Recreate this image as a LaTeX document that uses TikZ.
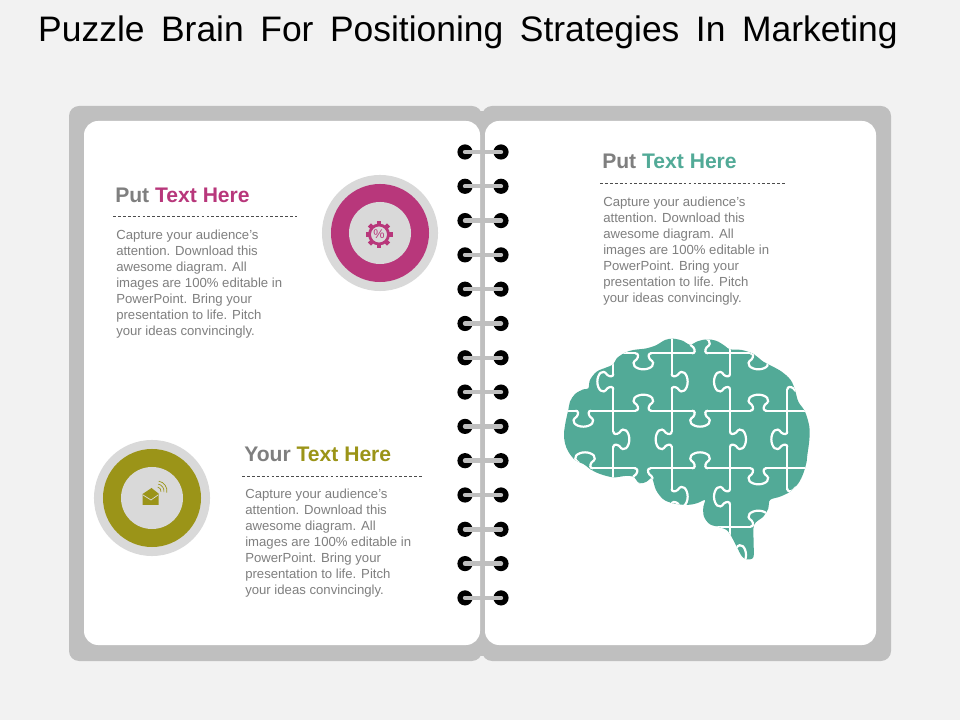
\documentclass[tikz,border=0pt]{standalone}
\usepackage{fontspec}
\setmainfont{Liberation Sans}
\newfontfamily\titlefont[WordSpace=1.68]{Liberation Sans}
\usepackage{tikz}

\definecolor{slidegray}{HTML}{F2F2F2}
\definecolor{covergray}{HTML}{BFBFBF}
\definecolor{ringgray}{HTML}{D9D9D9}
\definecolor{textgray}{HTML}{7F7F7F}
\definecolor{brainteal}{HTML}{52AA97}
\definecolor{ringpink}{HTML}{B8377B}
\definecolor{ringolive}{HTML}{9B9418}

\newcommand{\bodylines}{Capture your audience's\\attention. Download this\\awesome diagram. All\\images are 100\% editable in\\PowerPoint. Bring your\\presentation to life. Pitch\\your ideas convincingly.}
\newcommand{\brainoutline}{plot[smooth cycle,tension=0.55] coordinates {(42,310) (48,270) (55,240) (60,215) (75,192) (100,178) (115,175) (120,150) (140,125) (170,112) (190,103) (200,85) (225,68) (250,60) (290,55) (320,45) (345,30) (370,26) (400,33) (420,45) (440,35) (470,28) (500,33) (525,48) (540,58) (575,60) (610,72) (640,95) (665,108) (695,125) (722,150) (735,180) (745,215) (765,245) (778,290) (778,330) (772,375) (770,395) (760,430) (745,460) (720,485) (690,500) (660,510) (655,535) (640,560) (612,585) (611,640) (610,682) (590,688) (575,678) (560,650) (535,605) (510,592) (480,583) (462,560) (460,530) (465,510) (440,520) (410,525) (370,520) (340,508) (318,480) (306,445) (290,455) (268,460) (250,440) (225,438) (190,442) (150,432) (125,420) (100,402) (75,390) (55,365) (45,340)}}

\tikzset{
  page/.style={fill=white,rounded corners=0.35cm},
  cover/.style={fill=covergray,rounded corners=0.25cm},
  headtext/.style={anchor=west,inner sep=0pt,font=\fontsize{15}{18}\selectfont\bfseries,text=textgray},
  bodytext/.style={anchor=north west,inner sep=0pt,align=left,text=textgray,font=\fontsize{9.35}{11.34}\selectfont},
  ruleline/.style={line width=0.4pt,black!70,dash pattern=on 2pt off 1.5pt},
  ringnode/.style={circle,inner sep=0pt},
  hole/.style={circle,fill=black,minimum size=0.38cm,inner sep=0pt},
  wire/.style={covergray,line width=0.11cm,line cap=round},
  seam/.style={white,line width=0.055cm},
  knob/.pic={
    \draw[brainteal,line width=0.08cm] (-21,0) -- (21,0);
    \draw[seam] (-24,0) .. controls (-14,0) and (-14,10) .. (-20,18) .. controls (-42,32) and (-22,48) .. (0,48) .. controls (22,48) and (42,32) .. (20,18) .. controls (14,10) and (14,0) .. (24,0);
  }
}

\begin{document}
\begin{tikzpicture}[x=0.025cm,y=-0.025cm]
\useasboundingbox (0,0) rectangle (960,720);
\fill[slidegray] (0,0) rectangle (960,720);

\node[anchor=center,inner sep=0pt,font=\titlefont\fontsize{25.2}{30}\selectfont,text=black] (title) at (468,32) {Puzzle Brain For Positioning Strategies In Marketing};

% notebook
\fill[cover] (69,106) rectangle (482,661);
\fill[cover] (482,106) rectangle (891,661);
\fill[covergray] (472,111) rectangle (492,656);
\fill[page] (84,121) rectangle (480,645);
\fill[page] (485,121) rectangle (876,645);

% spiral binding
\foreach \row in {0,...,13} {
  \pgfmathsetmacro{\rowy}{152+34.3*\row}
  \node[hole] (holeL\row) at (465,\rowy) {};
  \node[hole] (holeR\row) at (501,\rowy) {};
  \draw[wire] (holeL\row.center) -- (holeR\row.center);
}

% pink ring
\node[ringnode,fill=ringgray,minimum size=2.9cm] (ringA) at (380,233) {};
\node[ringnode,fill=ringpink,minimum size=2.45cm] (ringAmid) at (380,233) {};
\node[ringnode,fill=ringgray,minimum size=1.55cm] (ringAin) at (380,233) {};
\begin{scope}[shift={(379,234.5)},x=0.025cm,y=0.025cm]
\draw[ringpink,line width=0.07cm] (0,0) circle (9.5);
\foreach \ang in {0,45,...,315}
  \fill[ringpink,rotate=\ang] (-2.2,9) rectangle (2.2,13.5);
\node[inner sep=0pt,text=ringpink,font=\fontsize{9}{9}\selectfont] (gearsign) at (0,0) {\%};
\end{scope}

% olive ring
\node[ringnode,fill=ringgray,minimum size=2.9cm] (ringB) at (152,498) {};
\node[ringnode,fill=ringolive,minimum size=2.45cm] (ringBmid) at (152,498) {};
\node[ringnode,fill=ringgray,minimum size=1.55cm] (ringBin) at (152,498) {};
\fill[ringolive] (142.5,494) -- (151.5,488) -- (158.5,493.5) -- (158.5,505) -- (142.5,505) -- cycle;
\draw[ringgray,line width=0.5pt] (143,495) -- (151,500) -- (158,495);
\begin{scope}[shift={(157,491)},x=0.025cm,y=0.025cm]
\foreach \rad in {4,7,10}
  \draw[ringolive,line width=0.5pt] (-10:\rad) arc (-10:80:\rad);
\end{scope}

% left page text
\node[headtext] (headA) at (115,195) {Put \textcolor{ringpink}{Text Here}};
\draw[ruleline] (113,216) -- (297,216);
\node[bodytext] (bodyA) at (116,230) {\bodylines};

% lower text
\node[headtext] (headB) at (244,454) {Your \textcolor{ringolive}{Text Here}};
\draw[ruleline] (242,476) -- (423,476);
\node[bodytext] (bodyB) at (245,489) {\bodylines};

% right page text
\node[headtext] (headC) at (602,161) {Put \textcolor{brainteal}{Text Here}};
\draw[ruleline] (600,183) -- (785,183);
\node[bodytext] (bodyC) at (603,197) {\bodylines};

% brain
\begin{scope}[shift={(550,330)},x=0.025cm/3,y=-0.025cm/3]
\fill[brainteal] \brainoutline;
\begin{scope}
\clip \brainoutline;
\foreach \seamx/\ya/\yb in {190/70/450,365/20/530,540/50/695,712/176/500}
  \draw[seam] (\seamx,\ya) -- (\seamx,\yb);
\foreach \seamy/\xa/\xb in {70/190/600,242/40/785,415/100/785,590/480/615}
  \draw[seam] (\xa,\seamy) -- (\xb,\seamy);
\foreach \kx/\ky/\kr in {280/70/0,450/70/180,625/70/0,100/242/0,280/242/180,450/242/0,625/242/180,105/415/180,278/415/0,450/415/180,625/415/0,625/590/180,190/155/-90,190/328/90,365/155/90,365/328/-90,365/500/90,540/155/-90,540/328/90,540/500/-90,712/155/90,712/328/-90,712/500/90,540/675/90}
  \pic[rotate=\kr] at (\kx,\ky) {knob};
\end{scope}
\end{scope}
\end{tikzpicture}
\end{document}
